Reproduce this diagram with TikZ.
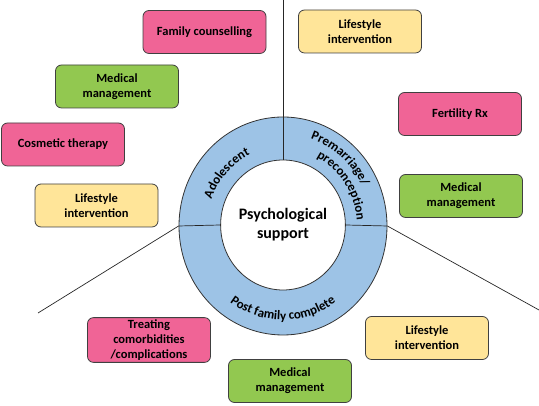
\documentclass[tikz,border=0pt]{standalone}
\usepackage{fontspec}
\setmainfont{Carlito}
\usetikzlibrary{shapes.geometric,decorations.text}
\definecolor{pinkfill}{RGB}{240,100,150}
\definecolor{greenfill}{RGB}{146,200,80}
\definecolor{yellowfill}{RGB}{255,229,153}
\definecolor{ringfill}{RGB}{157,195,230}
\newcommand{\ringfont}{\fontsize{13}{15}\selectfont\bfseries}

\begin{document}
\begin{tikzpicture}[x=1pt, y=1pt,
  item/.style={draw=black!75, rounded corners=6pt, line width=0.8pt,
               minimum width=123pt, minimum height=43pt, inner sep=2pt,
               align=center, font=\fontsize{12.5}{15}\selectfont\bfseries},
  pinkitem/.style={item, fill=pinkfill},
  greenitem/.style={item, fill=greenfill},
  yellowitem/.style={item, fill=yellowfill},
  divider/.style={draw=black!85, line width=0.7pt},
  ringtext/.style={decorate, decoration={text along path, text align=center,
                   text={|\ringfont|#1}}}
]
  \useasboundingbox (0,0) rectangle (539,406);

  % Ring and core
  \node[ellipse, draw=black!80, line width=0.8pt, fill=ringfill, inner sep=0pt,
        minimum width=208pt, minimum height=218pt] (ring) at (283,180) {};
  \node[ellipse, draw=black!80, line width=0.8pt, fill=white, inner sep=0pt,
        minimum width=122pt, minimum height=130pt, align=center,
        font=\fontsize{16}{19}\selectfont\bfseries] (core) at (283,181)
    {Psychological\\support};

  % Free ends of the long lines
  \coordinate (topend)   at (283,406);
  \coordinate (leftend)  at (38,93);
  \coordinate (rightend) at (539,96);

  % Dividers
  \draw[divider] (core.north) -- (topend);
  \draw[divider] (core.west)  -- (ring.west) -- (leftend);
  \draw[divider] (core.east)  -- (ring.east) -- (rightend);

  % Labels on the ring
  \path[ringtext=Adolescent]
    (283,180) ++(180:76 and 79) arc[start angle=180, end angle=95, x radius=76, y radius=79];
  \path[ringtext=Premarriage/]
    (283,180) ++(92:88 and 92) arc[start angle=92, end angle=6, x radius=88, y radius=92];
  \path[ringtext=preconception]
    (283,180) ++(84:74 and 77) arc[start angle=84, end angle=-16, x radius=74, y radius=77];
  \path[ringtext=Post family complete]
    (283,180) ++(195:90 and 94) arc[start angle=195, end angle=345, x radius=90, y radius=94];

  % Adolescent
  \node[pinkitem]   (famcouns)  at (204.5,374) {Family counselling};
  \node[greenitem]  (medtl)     at (117,319.5) {Medical\\management};
  \node[pinkitem]   (cosmetic)  at (63,261.5)  {Cosmetic therapy};
  \node[yellowitem] (lifel)     at (96.5,200.5) {Lifestyle\\intervention};

  % Premarriage / preconception
  \node[yellowitem] (lifetr)    at (360,374.5) {Lifestyle\\intervention};
  \node[pinkitem]   (fertility) at (460,292)   {Fertility Rx};
  \node[greenitem]  (medr)      at (461,210)   {Medical\\management};

  % Post family complete
  \node[pinkitem]   (treating)  at (149,66)    {Treating\\comorbidities\\/complications};
  \node[greenitem]  (medb)      at (290,25)    {Medical\\management};
  \node[yellowitem] (lifebr)    at (427,68)    {Lifestyle\\intervention};
\end{tikzpicture}
\end{document}
